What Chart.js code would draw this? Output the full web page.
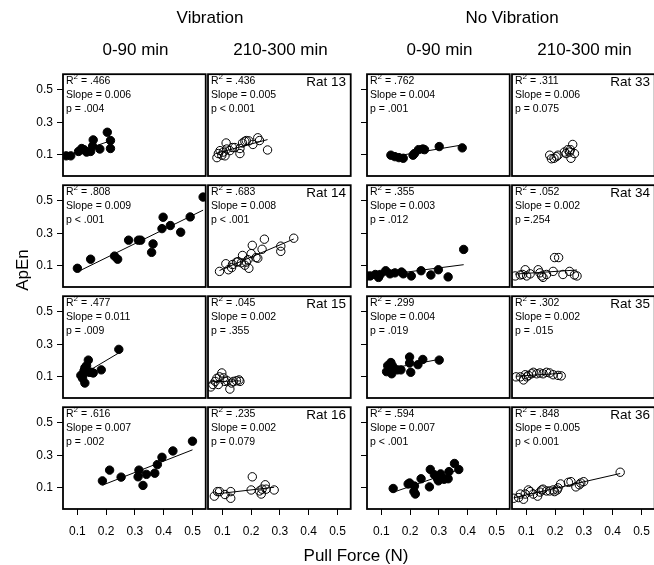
<!DOCTYPE html>
<html>
<head>
<meta charset="utf-8">
<script src="https://cdn.jsdelivr.net/npm/chart.js@4"></script>
<style>
  html, body { margin: 0; padding: 0; background: #fff; overflow: hidden; }
  #page { position: relative; width: 654px; height: 565px; overflow: hidden; font-family: 'Liberation Sans', Arial, sans-serif; color: #000; }
  #page canvas { position: absolute; }
  .lbl { position: absolute; white-space: nowrap; line-height: 1; }
  .title { font-size: 17px; transform: translate(-50%, -50%); }
  .stats { font-size: 10.5px; line-height: 14px; }
  .stats sup { font-size: 8px; line-height: 0; position: relative; top: -1px; }
  .rat { font-size: 13.5px; transform: translate(-100%, -50%); }
</style>
</head>
<body>
<div id="page"></div>
<script>
// Tick values
const xTicks = [0.1, 0.2, 0.3, 0.4, 0.5];
const yTicks = [0.1, 0.3, 0.5];

// Vibration group (rats 13-16), filled = 0-90 min, open = 210-300 min
const rat13EarlyX = [0.061, 0.077, 0.104, 0.115, 0.123, 0.132, 0.146, 0.153, 0.155, 0.178, 0.204, 0.215, 0.215];
const rat13EarlyY = [0.094, 0.094, 0.121, 0.139, 0.132, 0.117, 0.121, 0.154, 0.192, 0.136, 0.239, 0.188, 0.139];
const rat13LateX = [0.081, 0.086, 0.092, 0.098, 0.103, 0.109, 0.115, 0.113, 0.126, 0.135, 0.143, 0.161, 0.161, 0.170, 0.178, 0.183, 0.192, 0.206, 0.223, 0.229, 0.257];
const rat13LateY = [0.083, 0.108, 0.126, 0.098, 0.117, 0.094, 0.136, 0.173, 0.126, 0.145, 0.145, 0.139, 0.108, 0.173, 0.183, 0.188, 0.186, 0.164, 0.205, 0.188, 0.130];

const rat14EarlyX = [0.100, 0.146, 0.229, 0.240, 0.278, 0.312, 0.320, 0.363, 0.358, 0.394, 0.398, 0.423, 0.459, 0.492, 0.537];
const rat14EarlyY = [0.085, 0.141, 0.160, 0.141, 0.258, 0.258, 0.258, 0.235, 0.183, 0.329, 0.399, 0.348, 0.307, 0.401, 0.523];
const rat14LateX = [0.090, 0.112, 0.121, 0.132, 0.135, 0.149, 0.155, 0.166, 0.170, 0.178, 0.183, 0.189, 0.192, 0.200, 0.204, 0.217, 0.223, 0.238, 0.246, 0.303, 0.303, 0.348];
const rat14LateY = [0.066, 0.113, 0.076, 0.089, 0.108, 0.123, 0.126, 0.119, 0.164, 0.104, 0.123, 0.138, 0.085, 0.175, 0.226, 0.151, 0.147, 0.202, 0.264, 0.221, 0.189, 0.270];

const rat15EarlyX = [0.244, 0.183, 0.155, 0.141, 0.138, 0.132, 0.126, 0.123, 0.112, 0.118, 0.126, 0.149, 0.121];
const rat15EarlyY = [0.269, 0.143, 0.124, 0.128, 0.203, 0.169, 0.156, 0.138, 0.109, 0.091, 0.062, 0.128, 0.119];
const rat15LateX = [0.060, 0.067, 0.075, 0.081, 0.090, 0.098, 0.104, 0.109, 0.117, 0.126, 0.132, 0.138, 0.149, 0.158, 0.161, 0.086];
const rat15LateY = [0.038, 0.053, 0.072, 0.091, 0.100, 0.124, 0.094, 0.072, 0.076, 0.025, 0.062, 0.072, 0.076, 0.081, 0.072, 0.053];

const rat16EarlyX = [0.187, 0.212, 0.252, 0.314, 0.311, 0.328, 0.340, 0.369, 0.378, 0.394, 0.432, 0.500];
const rat16EarlyY = [0.143, 0.209, 0.166, 0.209, 0.168, 0.115, 0.183, 0.190, 0.243, 0.288, 0.327, 0.387];
const rat16LateX = [0.072, 0.083, 0.090, 0.109, 0.129, 0.129, 0.200, 0.204, 0.229, 0.235, 0.238, 0.249, 0.252, 0.280];
const rat16LateY = [0.049, 0.077, 0.077, 0.059, 0.077, 0.036, 0.087, 0.168, 0.081, 0.062, 0.092, 0.119, 0.092, 0.087];

// No vibration group (rats 33-36)
const rat33EarlyX = [0.133, 0.147, 0.161, 0.176, 0.210, 0.215, 0.229, 0.244, 0.250, 0.301, 0.381];
const rat33EarlyY = [0.098, 0.089, 0.083, 0.079, 0.098, 0.108, 0.132, 0.136, 0.132, 0.151, 0.143];
const rat33LateX = [0.181, 0.187, 0.196, 0.204, 0.210, 0.232, 0.238, 0.244, 0.250, 0.253, 0.255, 0.261, 0.267];
const rat33LateY = [0.098, 0.076, 0.079, 0.089, 0.098, 0.117, 0.108, 0.132, 0.117, 0.132, 0.079, 0.164, 0.108];

const rat34EarlyX = [0.050, 0.061, 0.079, 0.090, 0.096, 0.115, 0.130, 0.147, 0.170, 0.176, 0.204, 0.238, 0.272, 0.298, 0.332, 0.386];
const rat34EarlyY = [0.038, 0.038, 0.047, 0.029, 0.047, 0.070, 0.051, 0.057, 0.062, 0.051, 0.038, 0.070, 0.044, 0.076, 0.032, 0.201];
const rat34LateX = [0.061, 0.079, 0.087, 0.096, 0.101, 0.113, 0.141, 0.147, 0.153, 0.158, 0.170, 0.193, 0.198, 0.212, 0.227, 0.250, 0.267, 0.276];
const rat34LateY = [0.038, 0.044, 0.047, 0.076, 0.038, 0.051, 0.076, 0.057, 0.038, 0.029, 0.047, 0.066, 0.151, 0.151, 0.047, 0.066, 0.044, 0.038];

const rat35EarlyX = [0.118, 0.122, 0.133, 0.138, 0.136, 0.147, 0.156, 0.168, 0.198, 0.198, 0.202, 0.227, 0.244, 0.301];
const rat35EarlyY = [0.132, 0.169, 0.188, 0.169, 0.119, 0.147, 0.143, 0.143, 0.222, 0.185, 0.128, 0.175, 0.207, 0.203];
const rat35LateX = [0.064, 0.079, 0.090, 0.096, 0.101, 0.107, 0.118, 0.124, 0.136, 0.147, 0.158, 0.170, 0.181, 0.193, 0.210, 0.221];
const rat35LateY = [0.100, 0.100, 0.081, 0.113, 0.100, 0.109, 0.119, 0.128, 0.119, 0.124, 0.119, 0.128, 0.124, 0.113, 0.109, 0.106];

const rat36EarlyX = [0.141, 0.193, 0.198, 0.215, 0.213, 0.218, 0.238, 0.267, 0.270, 0.284, 0.295, 0.298, 0.306, 0.318, 0.332, 0.335, 0.354, 0.369];
const rat36EarlyY = [0.096, 0.124, 0.130, 0.111, 0.077, 0.062, 0.156, 0.106, 0.213, 0.181, 0.156, 0.143, 0.186, 0.153, 0.156, 0.200, 0.250, 0.213];
const rat36LateX = [0.056, 0.073, 0.079, 0.090, 0.096, 0.107, 0.113, 0.124, 0.139, 0.147, 0.153, 0.158, 0.170, 0.181, 0.193, 0.198, 0.207, 0.210, 0.219, 0.246, 0.255, 0.272, 0.284, 0.289, 0.299, 0.426];
const rat36LateY = [0.036, 0.040, 0.062, 0.030, 0.062, 0.087, 0.077, 0.062, 0.049, 0.074, 0.087, 0.092, 0.081, 0.081, 0.087, 0.077, 0.087, 0.100, 0.124, 0.134, 0.138, 0.106, 0.119, 0.130, 0.138, 0.196];

// Panel annotations, row by row: vib 0-90, vib 210-300, novib 0-90, novib 210-300
const r2Text = ['.466', '.436', '.762', '.311', '.808', '.683', '.355', '.052', '.477', '.045', '.299', '.302', '.616', '.235', '.594', '.848'];
const slopeText = ['0.006', '0.005', '0.004', '0.006', '0.009', '0.008', '0.003', '0.002', '0.011', '0.002', '0.004', '0.002', '0.007', '0.002', '0.007', '0.005'];
const pText = ['p = .004', 'p < 0.001', 'p = .001', 'p = 0.075', 'p < .001', 'p < .001', 'p = .012', 'p =.254', 'p = .009', 'p = .355', 'p = .019', 'p = .015', 'p = .002', 'p = 0.079', 'p < .001', 'p < 0.001'];
const vibRats = ['Rat 13', 'Rat 14', 'Rat 15', 'Rat 16'];
const noVibRats = ['Rat 33', 'Rat 34', 'Rat 35', 'Rat 36'];

const panelX = [
  [rat13EarlyX, rat13LateX, rat33EarlyX, rat33LateX],
  [rat14EarlyX, rat14LateX, rat34EarlyX, rat34LateX],
  [rat15EarlyX, rat15LateX, rat35EarlyX, rat35LateX],
  [rat16EarlyX, rat16LateX, rat36EarlyX, rat36LateX]
];
const panelY = [
  [rat13EarlyY, rat13LateY, rat33EarlyY, rat33LateY],
  [rat14EarlyY, rat14LateY, rat34EarlyY, rat34LateY],
  [rat15EarlyY, rat15LateY, rat35EarlyY, rat35LateY],
  [rat16EarlyY, rat16LateY, rat36EarlyY, rat36LateY]
];

// layout
const colLeft = [63, 208, 367, 512];
const rowTop = [65, 176, 287, 398];
const PW = 145, PH = 111;
const AX = 50, AXH = 40;
const X_MIN = 0.05, X_MAX = 0.546;
const Y_MIN = -0.03, Y_MAX = 0.596;
const FONT = "'Liberation Sans', Arial, sans-serif";

const page = document.getElementById('page');

function addLabel(text, cls, x, y, html) {
  const d = document.createElement('div');
  d.className = 'lbl ' + cls;
  if (html) d.innerHTML = text; else d.textContent = text;
  d.style.left = x + 'px';
  d.style.top = y + 'px';
  page.appendChild(d);
  return d;
}

function fitLine(xs, ys) {
  const n = xs.length;
  const mx = xs.reduce((a, b) => a + b, 0) / n;
  const my = ys.reduce((a, b) => a + b, 0) / n;
  let sxy = 0, sxx = 0;
  for (let i = 0; i < n; i++) {
    sxy += (xs[i] - mx) * (ys[i] - my);
    sxx += (xs[i] - mx) * (xs[i] - mx);
  }
  const b = sxy / sxx, a = my - b * mx;
  const lo = Math.min(...xs), hi = Math.max(...xs);
  return [{ x: lo, y: a + b * lo }, { x: hi, y: a + b * hi }];
}

const framePlugin = {
  id: 'frame',
  afterDraw(chart) {
    const { ctx, chartArea: a } = chart;
    ctx.save();
    ctx.strokeStyle = '#000';
    ctx.lineWidth = 1.8;
    ctx.strokeRect(a.left, a.top, a.right - a.left, a.bottom - a.top);
    ctx.restore();
  }
};

function makePanel(r, c) {
  const xs = panelX[r][c], ys = panelY[r][c];
  const open = c % 2 === 1;
  const showYLabels = c === 0;
  const showYTicks = c === 0 || c === 2;
  const showX = r === 3;

  const canvas = document.createElement('canvas');
  const w = AX + PW + 2, h = 2 + PH + AXH;
  canvas.width = w; canvas.height = h;
  canvas.style.width = w + 'px'; canvas.style.height = h + 'px';
  canvas.style.left = (colLeft[c] - AX) + 'px';
  canvas.style.top = (rowTop[r] - 2) + 'px';
  page.appendChild(canvas);

  const datasets = [{
    data: xs.map((x, i) => ({ x: x, y: ys[i] })),
    pointRadius: 4.2,
    pointBackgroundColor: open ? 'rgba(0,0,0,0)' : '#000',
    pointBorderColor: '#000',
    pointBorderWidth: 1,
    showLine: false
  }];
  // Rat 33 late panel has no fitted line
  if (!(r === 0 && c === 3)) {
    datasets.push({
      data: fitLine(xs, ys),
      showLine: true,
      borderColor: '#000',
      borderWidth: 1,
      pointRadius: 0
    });
  }

  new Chart(canvas, {
    type: 'scatter',
    data: { datasets: datasets },
    options: {
      responsive: false,
      animation: false,
      events: [],
      layout: { padding: { top: 2, right: 2, left: 0, bottom: 0 }, autoPadding: false },
      plugins: { legend: { display: false }, tooltip: { enabled: false } },
      scales: {
        x: {
          type: 'linear', min: X_MIN, max: X_MAX,
          afterFit: s => { s.height = AXH; },
          afterBuildTicks: s => { s.ticks = xTicks.map(v => ({ value: v })); },
          border: { display: false },
          grid: { drawOnChartArea: false, drawTicks: showX, tickLength: 6, tickColor: '#000', lineWidth: 1 },
          ticks: {
            color: showX ? '#000' : 'rgba(0,0,0,0)', padding: 9, maxRotation: 0,
            font: { family: FONT, size: 12 },
            callback: v => v.toFixed(1)
          }
        },
        y: {
          type: 'linear', min: Y_MIN, max: Y_MAX,
          afterFit: s => { s.width = AX; },
          afterBuildTicks: s => { s.ticks = yTicks.map(v => ({ value: v })); },
          border: { display: false },
          grid: { drawOnChartArea: false, drawTicks: showYTicks, tickLength: 6, tickColor: '#000', lineWidth: 1 },
          ticks: {
            color: showYLabels ? '#000' : 'rgba(0,0,0,0)', padding: 4,
            font: { family: FONT, size: 12 },
            callback: v => v.toFixed(1)
          }
        }
      }
    },
    plugins: [framePlugin]
  });

  const k = r * 4 + c;
  addLabel('R<sup>2</sup> = ' + r2Text[k] + '<br>Slope = ' + slopeText[k] + '<br>' + pText[k].replace('<', '&lt;'),
    'stats', colLeft[c] + 3, rowTop[r] + 8, true);
}

for (let r = 0; r < 4; r++) {
  for (let c = 0; c < 4; c++) makePanel(r, c);
  addLabel(vibRats[r], 'rat', colLeft[1] + PW - 7, rowTop[r] + 17);
  addLabel(noVibRats[r], 'rat', colLeft[3] + PW - 7, rowTop[r] + 17);
}

// Titles
addLabel('Vibration', 'title', 210, 17);
addLabel('No Vibration', 'title', 512, 17);
addLabel('0-90 min', 'title', colLeft[0] + PW / 2, 49);
addLabel('210-300 min', 'title', colLeft[1] + PW / 2, 49);
addLabel('0-90 min', 'title', colLeft[2] + PW / 2, 49);
addLabel('210-300 min', 'title', colLeft[3] + PW / 2, 49);
addLabel('Pull Force (N)', 'title', 356, 555);
const yl = addLabel('ApEn', 'title', 22, 270);
yl.style.transform = 'translate(-50%, -50%) rotate(-90deg)';
</script>
</body>
</html>
